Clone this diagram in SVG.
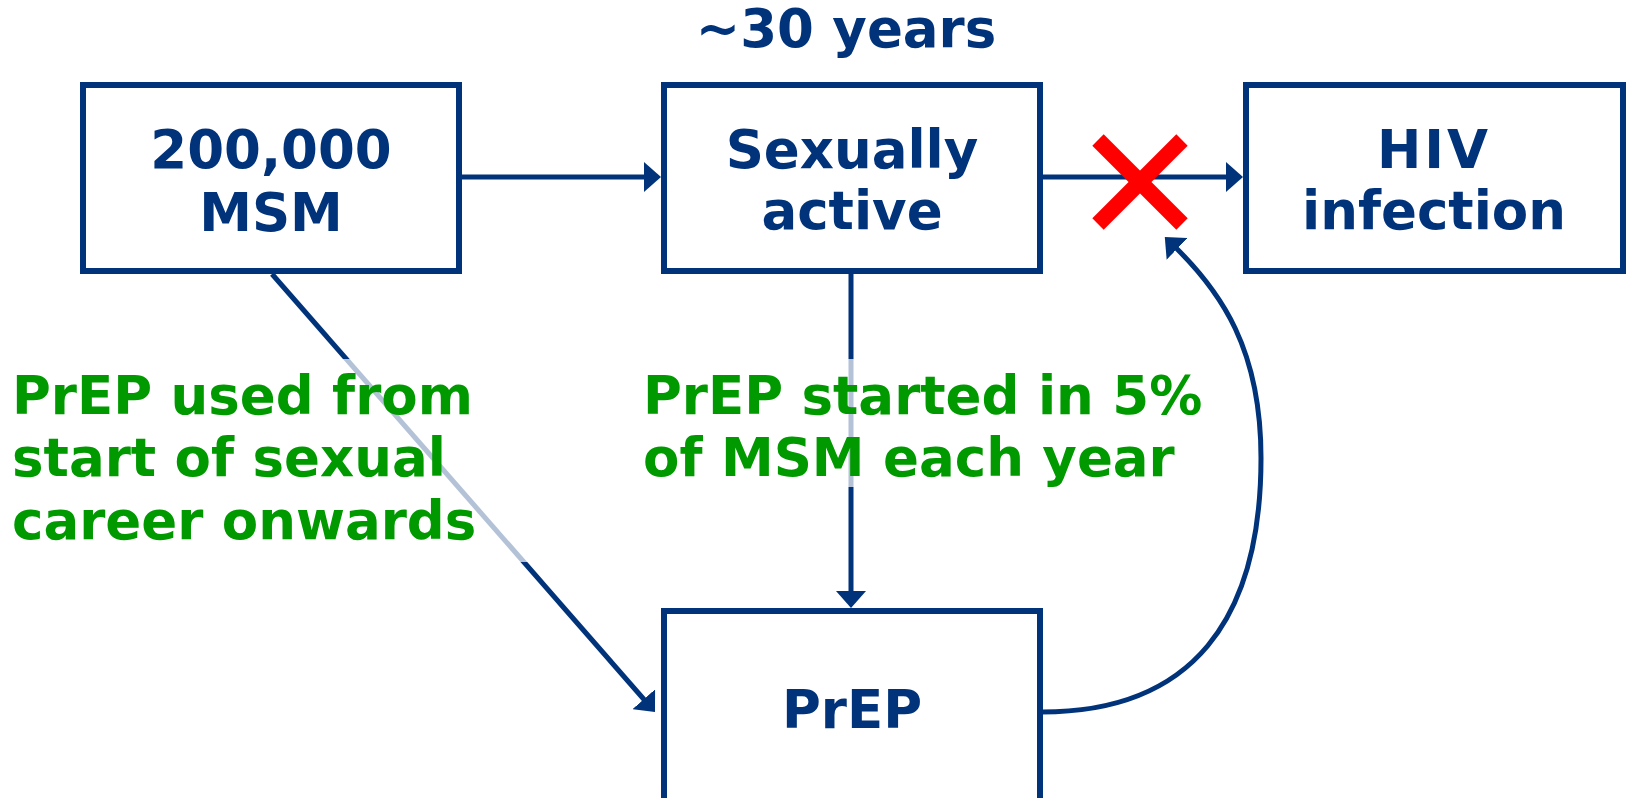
<svg xmlns="http://www.w3.org/2000/svg" width="1631" height="798" viewBox="0 0 1631 798">
<style>
.box{fill:#fff;stroke:#00337A;stroke-width:6}
.nt{font-family:"DejaVu Sans",Verdana,sans-serif;font-weight:bold;font-size:53px;fill:#00337A;text-anchor:middle}
.gt{font-family:"DejaVu Sans",Verdana,sans-serif;font-weight:bold;font-size:53px;fill:#009900}
.ln{fill:none;stroke:#00337A;stroke-width:5}
.veil{fill:#fff;fill-opacity:0.7}
</style>
<defs>
<marker id="ah" markerUnits="userSpaceOnUse" viewBox="0 0 17 30" refX="7" refY="15" markerWidth="17" markerHeight="30" orient="auto">
<path d="M0,0 L17,15 L0,30 z" fill="#00337A"/>
</marker>
</defs>
<rect width="1631" height="798" fill="#fff"/>
<g id="connectors">
<line class="ln" x1="462" y1="177" x2="651" y2="177" marker-end="url(#ah)"/>
<line class="ln" x1="1043" y1="177" x2="1233" y2="177" marker-end="url(#ah)"/>
<line class="ln" x1="851" y1="274" x2="851" y2="598" marker-end="url(#ah)"/>
<line class="ln" x1="272" y1="274" x2="648.4" y2="704.5" marker-end="url(#ah)"/>
<path class="ln" d="M1042,712 C1192,712 1261,620 1261,458 C1261,350 1222,292 1172,244" marker-end="url(#ah)"/>
</g>
<g id="node-msm">
<rect class="box" x="83" y="85" width="376" height="186"/>
<text class="nt" x="271" y="168">200,000</text>
<text class="nt" x="271" y="231">MSM</text>
</g>
<g id="node-sexually-active">
<rect class="box" x="664" y="85" width="376" height="186"/>
<text class="nt" x="852" y="168">Sexually</text>
<text class="nt" x="852" y="229">active</text>
</g>
<g id="node-hiv">
<rect class="box" x="1246" y="85" width="377" height="186"/>
<text class="nt" x="1434" y="168" letter-spacing="3">HIV</text>
<text class="nt" x="1434" y="229">infection</text>
</g>
<g id="node-prep">
<rect class="box" x="664" y="611" width="376" height="210"/>
<text class="nt" x="852" y="728">PrEP</text>
</g>
<g id="label-30years">
<text class="nt" x="846" y="47">~30 years</text>
</g>
<g id="label-left">
<rect class="veil" x="8" y="359" width="524" height="203"/>
<text class="gt" x="12" y="414">PrEP used from</text>
<text class="gt" x="12" y="476">start of sexual</text>
<text class="gt" x="12" y="539">career onwards</text>
</g>
<g id="label-middle">
<rect class="veil" x="638" y="359" width="580" height="128"/>
<text class="gt" x="643" y="414">PrEP started in 5%</text>
<text class="gt" x="643" y="476">of MSM each year</text>
</g>
<g id="red-cross" stroke="#FF0000" stroke-width="16">
<line x1="1098" y1="140" x2="1182" y2="224"/>
<line x1="1182" y1="140" x2="1098" y2="224"/>
</g>
</svg>
